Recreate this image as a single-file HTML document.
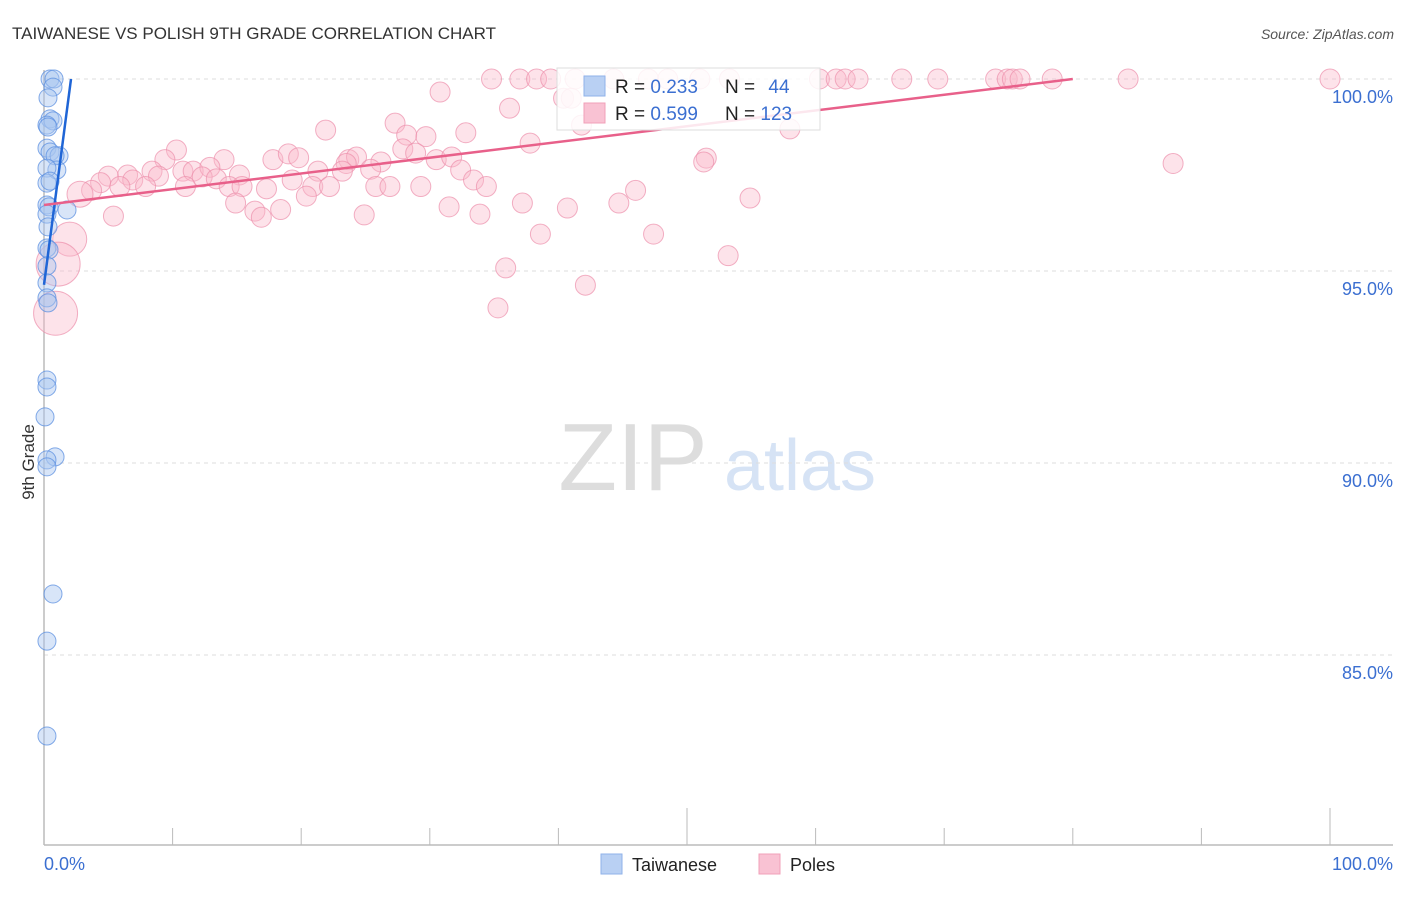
<!DOCTYPE html>
<html><head><meta charset="utf-8"><style>
body{margin:0;background:#fff;font-family:"Liberation Sans",sans-serif;}
svg text{font-family:"Liberation Sans",sans-serif;}
</style></head><body>
<svg id="chart" width="1406" height="892" xmlns="http://www.w3.org/2000/svg">
<text x="12" y="39" font-size="17" fill="#333">TAIWANESE VS POLISH 9TH GRADE CORRELATION CHART</text>
<text x="1394" y="39" font-size="14" fill="#555" font-style="italic" text-anchor="end">Source: ZipAtlas.com</text>
<text x="34" y="462" font-size="17" fill="#333" transform="rotate(-90 34 462)" text-anchor="middle">9th Grade</text>
<g>
<text x="633" y="490" font-size="96" fill="#ddd" font-family="Liberation Serif" text-anchor="middle">ZIP</text>
<text x="800" y="490" font-size="72" fill="#d6e3f5" text-anchor="middle">atlas</text>
</g>
<g id="grid"></g>
<g id="axes"></g>
<g id="pts"></g>
<g id="trend"></g>
<g>
<rect x="557" y="68" width="263" height="62" fill="#fff" fill-opacity="0.85" stroke="#ddd"/>
<rect x="584" y="76" width="21" height="20" fill="#b9d0f3" stroke="#8fb2ea"/>
<rect x="584" y="103" width="21" height="20" fill="#f9c2d3" stroke="#f1a0b8"/>
<text x="615" y="93" font-size="19" fill="#222">R = <tspan fill="#3b6fd1">0.233</tspan></text>
<text x="725" y="93" font-size="19" fill="#222">N = <tspan fill="#3b6fd1" dx="8">44</tspan></text>
<text x="615" y="120" font-size="19" fill="#222">R = <tspan fill="#3b6fd1">0.599</tspan></text>
<text x="725" y="120" font-size="19" fill="#222">N = <tspan fill="#3b6fd1">123</tspan></text>
</g>
<g>
<rect x="601" y="854" width="21" height="20" fill="#b9d0f3" stroke="#8fb2ea"/>
<text x="632" y="871" font-size="18" fill="#222">Taiwanese</text>
<rect x="759" y="854" width="21" height="20" fill="#f9c2d3" stroke="#f1a0b8"/>
<text x="790" y="871" font-size="18" fill="#222">Poles</text>
</g>
</svg>
<script>
const yTicks=[100,95,90,85];
const xTickLabels=["0.0%","100.0%"];
const blueX=[0.47,0.78,0.7,0.31,0.47,0.7,0.23,0.31,0.23,0.47,1.17,0.86,1.0,0.23,0.23,0.47,0.23,0.39,1.79,0.23,0.31,0.23,0.39,0.23,0.23,0.23,0.31,0.23,0.23,0.08,0.86,0.23,0.23,0.7,0.23,0.23];
const blueY=[100,100,99.79,99.51,98.96,98.91,98.8,98.75,98.2,98.1,98.0,98.0,97.63,97.68,97.29,97.34,96.72,96.67,96.59,96.48,96.15,95.6,95.55,95.13,94.69,94.3,94.17,92.16,91.98,91.2,90.16,90.08,89.9,86.59,85.36,82.89];
const pinkX=[34.8,37.0,38.3,39.4,41.3,44.3,47.0,48.5,51.0,53.3,60.3,61.6,62.3,63.3,66.7,69.5,74.0,74.9,75.3,75.9,78.4,84.3,100,30.8,36.2,40.4,41.0,27.3,41.8,58.0,21.9,28.2,29.7,32.8,37.8,10.3,27.9,9.4,14.0,17.8,19.0,19.8,23.7,24.3,26.2,28.9,30.5,31.7,51.5,51.3,87.8,23.5,8.4,10.8,11.6,12.9,15.2,21.3,23.2,25.4,32.4,6.5,5.0,8.9,12.3,13.4,6.9,4.4,19.3,33.4,34.4,46.0,5.9,7.9,11.0,14.4,15.4,17.3,20.9,22.2,25.8,26.9,29.3,3.7,2.8,20.4,14.9,54.9,31.5,37.2,40.7,44.7,16.4,18.4,16.9,5.4,24.9,33.9,38.6,47.4,2.0,1.1,35.9,53.2,42.1,35.3,0.9];
const pinkY=[100,100,100,100,100,100,100,100,100,100,100,100,100,100,100,100,100,100,100,100,100,100,100,99.66,99.24,99.5,99.5,98.85,98.8,98.7,98.67,98.54,98.5,98.6,98.33,98.15,98.18,97.9,97.9,97.9,98.05,97.95,97.9,97.97,97.84,98.07,97.9,97.97,97.94,97.84,97.8,97.8,97.6,97.6,97.6,97.7,97.5,97.6,97.6,97.65,97.63,97.5,97.47,97.47,97.45,97.4,97.37,97.3,97.37,97.37,97.2,97.1,97.2,97.2,97.2,97.2,97.2,97.14,97.2,97.2,97.2,97.2,97.2,97.1,97.0,96.95,96.77,96.9,96.67,96.77,96.64,96.77,96.56,96.6,96.4,96.43,96.46,96.48,95.96,95.96,95.83,95.18,95.08,95.4,94.63,94.04,93.9];
const pinkR=[];pinkY.forEach((v,i)=>pinkR.push(10));
pinkR[100]=17;pinkR[101]=22;pinkR[106]=22;pinkR[84]=13;
const blueTrend=[0,94.64,2.1,100];
const pinkTrend=[0,96.72,80,100];
const NS="http://www.w3.org/2000/svg";
const sx=v=>44+v*12.86, sy=v=>79+(100-v)*38.4;
function mk(tag,attrs,parent){const e=document.createElementNS(NS,tag);for(const k in attrs)e.setAttribute(k,attrs[k]);document.getElementById(parent).appendChild(e);return e;}
yTicks.forEach(t=>{
 const l=mk('line',{x1:44,x2:1393,y1:sy(t),y2:sy(t),stroke:'#ddd','stroke-dasharray':'4,4'},'grid');
 
 
 const tx=mk('text',{x:1393,y:sy(t)+24,'font-size':18,fill:'#3b6fd1','text-anchor':'end'},'grid');
 tx.textContent=t.toFixed(1)+'%';
 
 
});
const ax=mk('line',{x1:44,x2:1393,y1:845,y2:845,stroke:'#bbb','stroke-width':1.5},'axes');


const ay=mk('line',{x1:44,x2:44,y1:70,y2:845,stroke:'#bbb','stroke-width':1.5},'axes');


for(let i=0;i<=10;i++){const v=i*10;const top=(i==5||i==10)?808:828;
 const t=mk('line',{x1:sx(v),x2:sx(v),y1:top,y2:845,stroke:'#bbb'},'axes');
 
 }
[[0,'start',44],[1,'end',1393]].forEach(([i,a,x])=>{const t=mk('text',{x:x,y:870,'font-size':18,fill:'#3b6fd1','text-anchor':a},'axes');t.textContent=xTickLabels[i];
 
 });
pinkX.forEach((x,i)=>{const c=mk('circle',{cx:sx(x),cy:sy(pinkY[i]),r:pinkR[i],fill:'#f9b8cb','fill-opacity':0.4,stroke:'#ec8fab','stroke-opacity':0.7},'pts');
 
 });
blueX.forEach((x,i)=>{const c=mk('circle',{cx:sx(x),cy:sy(blueY[i]),r:9,fill:'#a9c6f0','fill-opacity':0.45,stroke:'#5b8fe0','stroke-opacity':0.75},'pts');
 
 });
const bt=mk('line',{x1:sx(blueTrend[0]),y1:sy(blueTrend[1]),x2:sx(blueTrend[2]),y2:sy(blueTrend[3]),stroke:'#1f65d6','stroke-width':2.5},'trend');


const pt=mk('line',{x1:sx(pinkTrend[0]),y1:sy(pinkTrend[1]),x2:sx(pinkTrend[2]),y2:sy(pinkTrend[3]),stroke:'#e8608a','stroke-width':2.5},'trend');


</script>
</body></html>
